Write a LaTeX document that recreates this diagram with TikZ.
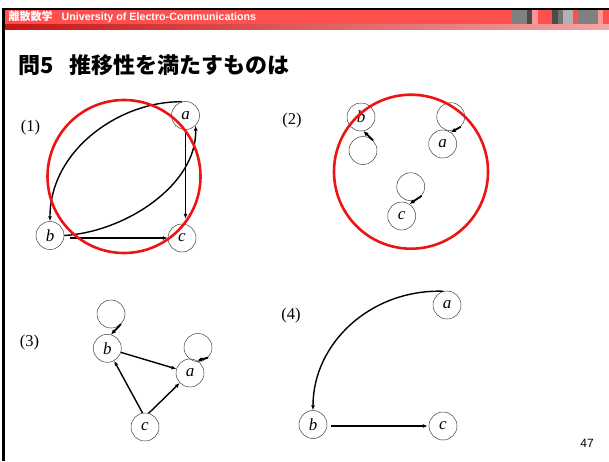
\documentclass[tikz,border=0pt]{standalone}
\usepackage{fontspec}
\setmainfont{Liberation Serif}
\setsansfont{Liberation Sans}
\newfontfamily\jp{Noto Sans CJK JP}
\usetikzlibrary{arrows.meta}
\definecolor{bandred}{RGB}{255,80,80}
\definecolor{ringred}{RGB}{238,20,20}
\definecolor{darkstripe}{RGB}{200,20,20}
\definecolor{lightstripe}{RGB}{244,165,165}
\tikzset{
  vtx/.style={circle,draw=black!75,line width=0.5pt,minimum size=28pt,inner sep=0pt,font=\fontsize{17}{17}\selectfont\itshape},
  lp/.style={circle,draw=black!75,line width=0.5pt,minimum size=28pt,inner sep=0pt},
  edge/.style={line width=1.4pt,-{Latex[length=5pt,width=4pt]}},
  loopar/.style={line width=1.8pt,-{Latex[length=5pt,width=4.5pt]}},
  ring/.style={draw=ringred,line width=2.6pt},
  lab/.style={font=\fontsize{16.5}{16.5}\selectfont},
}
\begin{document}
\begin{tikzpicture}[x=1pt,y=-1pt]
\useasboundingbox (0,0) rectangle (609,461);
% header
\fill[bandred] (2,10) rectangle (609,24);
\shade[left color=darkstripe,right color=lightstripe] (2,24) rectangle (609,29);
\fill[black] (2,8) rectangle (609,10);
\fill[black] (2,8) rectangle (4.5,461);
\fill[black!50] (512,10) rectangle (527,24);
\fill[black!70] (527,10) rectangle (532,24);
\fill[bandred!60!white] (532,10) rectangle (538,24);
\fill[black!70] (552,10) rectangle (558,24);
\fill[black!55] (558,10) rectangle (563,24);
\fill[black!30] (563,10) rectangle (573,24);
\fill[black!50] (578,10) rectangle (598,24);
\fill[bandred!60!white] (598,10) rectangle (603,24);
\node[anchor=west,text=white,inner sep=0pt] (hdr) at (8.5,17)
  {{\jp\bfseries\fontsize{11}{11}\selectfont 離散数学}\hspace{9pt}{\sffamily\bfseries\fontsize{10.7}{10.7}\selectfont University of Electro-Communications}};
\node[anchor=west,inner sep=0pt] (title) at (18,65)
  {\jp\bfseries\fontsize{22}{22}\selectfont 問5\hspace{16pt}推移性を満たすものは};
\node[font=\sffamily\fontsize{12}{12}\selectfont] (pg) at (587,443) {47};

% (1)
\node[lab] (l1) at (30.5,127.5) {(1)};
\node[vtx] (a1) at (185.5,115.5) {a};
\node[vtx] (b1) at (50,235.5) {b};
\node[vtx] (c1) at (182,238) {c};
\draw[edge] (a1.105) .. controls (120,101) and (50,150) .. (b1.north);
\draw[edge] (b1.east) .. controls (125,232) and (197,185) .. (a1.-45);
\draw[edge,shorten >=5pt,shorten <=3pt] (a1.south) -- (a1.south |- c1.north);
\draw[edge,shorten <=6pt] (c1.west -| b1.east) -- (c1.west);
\draw[ring] (124,176.5) circle[radius=76.5];

% (2)
\node[lab] (l2) at (292,121) {(2)};
\node[vtx] (b2) at (361,117) {b};
\node[lp] (bl2) at (363,150.5) {};
\node[vtx] (a2) at (442.7,144) {a};
\node[lp] (al2) at (450.7,116.7) {};
\node[vtx] (c2) at (401.7,216) {c};
\node[lp] (cl2) at (410.7,186.7) {};
\draw[loopar] (bl2.45) -- (b2.-80);
\draw[loopar] (al2.-45) -- (a2.55);
\draw[loopar] (cl2.-40) -- (c2.57);
\draw[ring] (411,171.7) circle[radius=77];

% (3)
\node[lab] (l3) at (29.5,343) {(3)};
\node[vtx] (b3) at (107.3,348.3) {b};
\node[lp] (bl3) at (111,314) {};
\node[vtx] (a3) at (190,373) {a};
\node[lp] (al3) at (198,347.5) {};
\node[vtx] (c3) at (145,427) {c};
\draw[loopar] (bl3.-45) -- (b3.75);
\draw[loopar] (al3.-45) -- (a3.60);
\draw[edge] (b3) -- (a3);
\draw[edge] (c3.100) -- (b3);
\draw[edge] (c3.75) -- (a3);

% (4)
\node[lab] (l4) at (291,316) {(4)};
\node[vtx] (a4) at (447,305) {a};
\node[vtx] (b4) at (313,424.5) {b};
\node[vtx] (c4) at (443,426) {c};
\draw[edge] (a4.105) .. controls (371,289) and (313,343) .. (b4.north);
\draw[edge,shorten <=4pt,shorten >=1pt] (b4.east |- c4.west) -- (c4.west);
\end{tikzpicture}
\end{document}
